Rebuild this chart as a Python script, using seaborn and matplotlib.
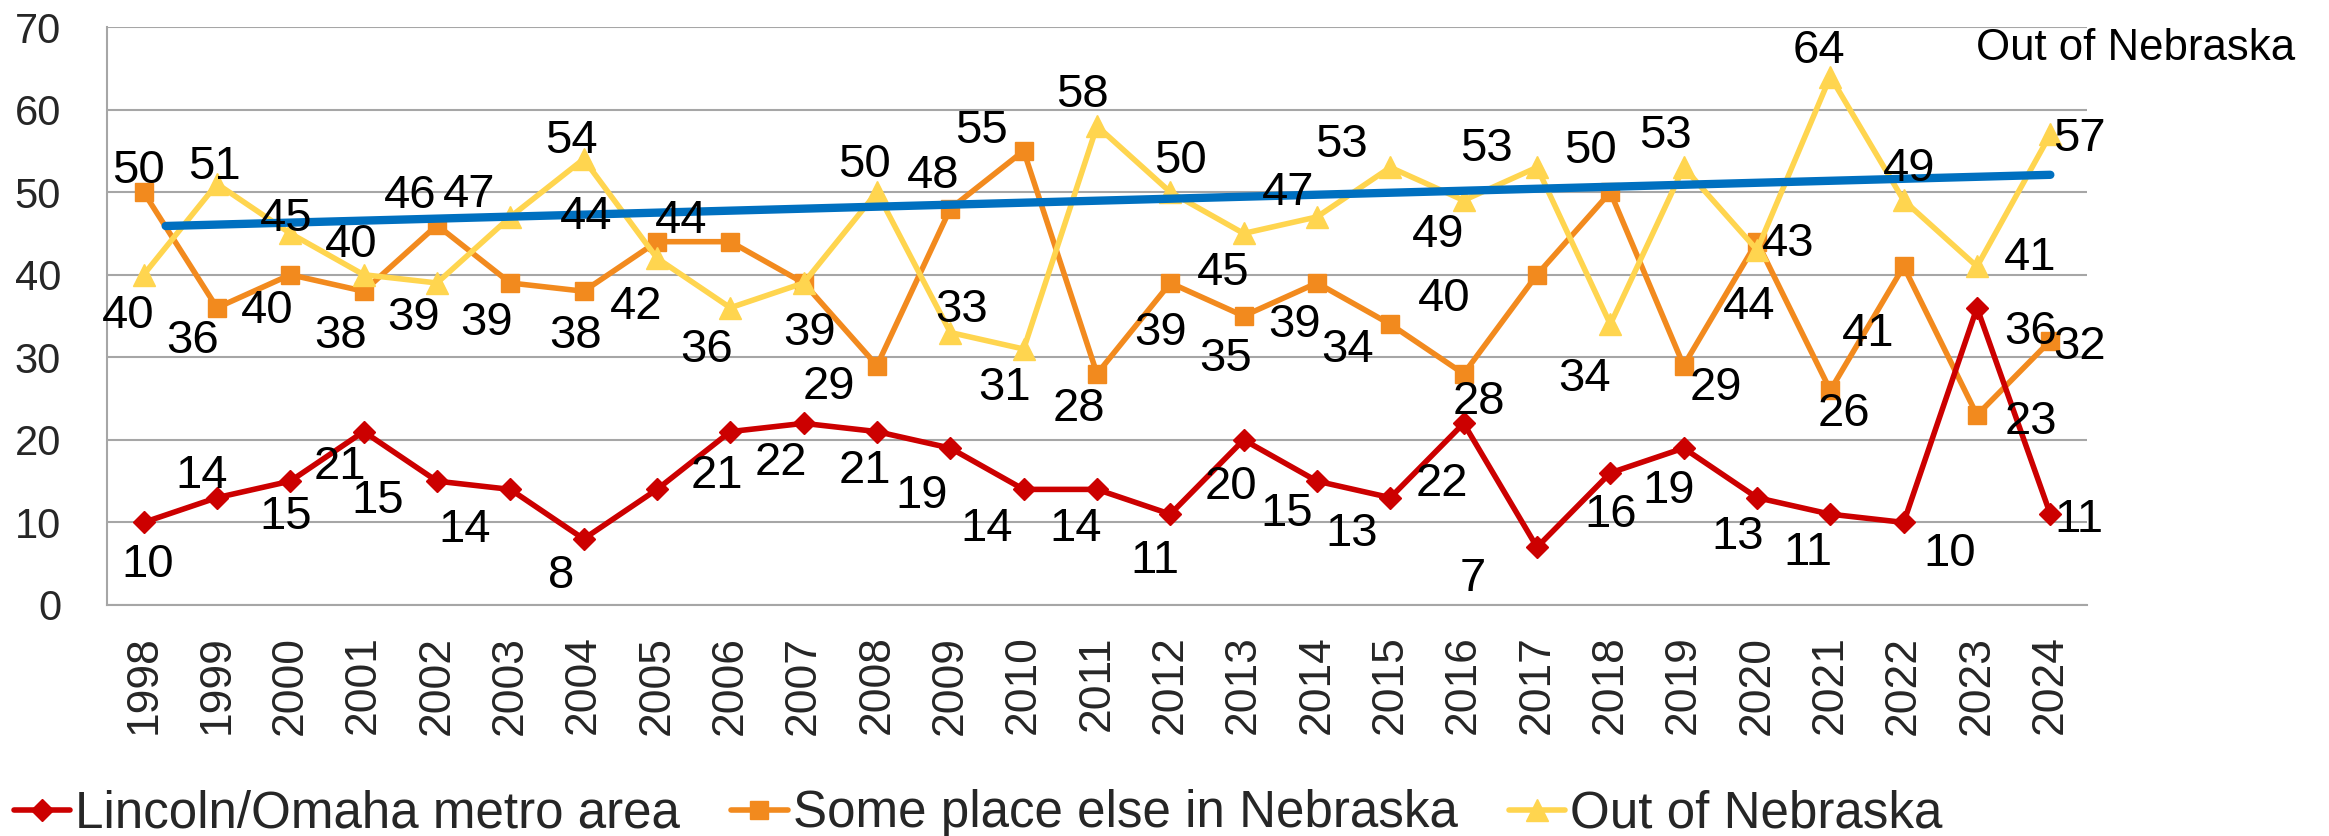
import matplotlib
matplotlib.use("Agg")
import matplotlib.pyplot as plt
import seaborn as sns
import numpy as np
from matplotlib.lines import Line2D

# ---------------- data ----------------
years = list(range(1998, 2025))
metro = [10, 13, 15, 21, 15, 14, 8, 14, 21, 22, 21, 19, 14, 14, 11, 20, 15, 13, 22, 7, 16, 19, 13, 11, 10, 36, 11]
elsewhere = [50, 36, 40, 38, 46, 39, 38, 44, 44, 39, 29, 48, 55, 28, 39, 35, 39, 34, 28, 40, 50, 29, 44, 26, 41, 23, 32]
out_ne = [40, 51, 45, 40, 39, 47, 54, 42, 36, 39, 50, 33, 31, 58, 50, 45, 47, 53, 49, 53, 34, 53, 43, 64, 49, 41, 57]

# data labels as shown on the chart
metro_labels = ["10", "14", "15", "21", "15", "14", "8", "", "21", "22", "21", "19", "14", "14", "11",
                "20", "15", "13", "22", "7", "16", "19", "13", "11", "10", "36", "11"]
elsewhere_labels = ["50", "36", "40", "38", "46", "39", "38", "44", "44", "", "29", "48", "55", "28", "39",
                    "35", "39", "34", "28", "40", "50", "29", "44", "26", "41", "23", "32"]
out_labels = [str(v) for v in out_ne]

# linear trend of "Out of Nebraska" (end points)
trend_years = [1998.3, 2024]
trend_values = [45.9, 52.1]

series_names = ["Lincoln/Omaha metro area", "Some place else in Nebraska", "Out of Nebraska"]
ytick_values = [0, 10, 20, 30, 40, 50, 60, 70]

# ---------------- label placement (dx in years, dy in value units) ----------------
metro_off = [(0.06, -4.6), (-0.21, 3.2), (-0.06, -3.8), (-0.33, -3.7), (-0.81, -1.8), (-0.63, -4.4),
             (-0.31, -3.9), (0, 0), (-0.18, -4.8), (-0.31, -4.3), (-0.17, -4.2), (-0.39, -5.2),
             (-0.51, -4.2), (-0.29, -4.2), (-0.21, -5.1), (-0.17, -5.2), (-0.42, -3.4), (-0.53, -3.8),
             (-0.30, -6.8), (-0.87, -3.3), (0.0, -4.6), (-0.2, -4.6), (-0.27, -4.2), (-0.31, -4.1),
             (0.63, -3.3), (0.73, -2.4), (0.39, -0.2)]
elsewhere_off = [(-0.07, 3.1), (-0.33, -3.5), (-0.31, -3.9), (-0.31, -4.9), (-0.36, 4.1), (-0.32, -4.3),
                 (-0.11, -4.9), (-0.96, 3.6), (-0.67, 3.1), (0, 0), (-0.66, -2.0), (-0.24, 4.5),
                 (-0.57, 3.0), (-0.25, -3.7), (-0.14, -5.5), (-0.24, -4.6), (-0.30, -4.5), (-0.59, -2.6),
                 (0.21, -2.9), (-1.27, -2.4), (-0.27, 5.5), (0.44, -2.2), (-0.11, -7.4), (0.18, -2.3),
                 (-0.48, -7.6), (0.73, -0.3), (0.4, -0.2)]
out_off = [(-0.21, -4.5), (-0.04, 2.6), (-0.05, 2.3), (-0.17, 4.1), (-0.32, -3.7), (-0.56, 3.2),
           (-0.17, 2.7), (-0.28, -5.3), (-0.32, -4.6), (0.08, -5.5), (-0.17, 3.8), (0.15, 3.3),
           (-0.26, -4.2), (-0.20, 4.3), (0.14, 4.3), (-0.28, -4.3), (-0.40, 3.4), (-0.67, 3.3),
           (-0.35, -3.6), (-0.69, 2.8), (-0.35, -6.1), (-0.25, 4.3), (0.43, 1.3), (-0.15, 3.7),
           (0.08, 4.4), (0.72, 1.6), (0.4, 0.0)]

# ---------------- style ----------------
sns.set_style("white")
plt.rcParams['font.family'] = ['Liberation Sans', 'DejaVu Sans']

RED = "#CC0000"
ORANGE = "#F28A1E"
YELLOW = "#FFD54F"
BLUE = "#0070C0"
GRID = "#A6A6A6"
LW = 4.0

W, H = 2329, 836
fig = plt.figure(figsize=(W / 100, H / 100), dpi=100)
ax = fig.add_axes([107 / W, 1 - 605 / H, 1980 / W, 578 / H])

styles = [
    (metro, RED, "D", 11.5, 4),
    (elsewhere, ORANGE, "s", 13.5, 2),
    (out_ne, YELLOW, "^", 15.5, 3),
]
for (vals, col, mk, ms, z), name in zip(styles, series_names):
    sns.lineplot(x=years, y=vals, color=col, marker=mk, markersize=ms, markeredgecolor=col,
                 markeredgewidth=1, linewidth=LW, ax=ax, zorder=z, label=name)

sns.lineplot(x=trend_years, y=trend_values, color=BLUE, linewidth=6, ax=ax, zorder=5)
if ax.get_legend() is not None:
    ax.get_legend().remove()

# data labels
LBL = 34
for vals, labels, offs in [(metro, metro_labels, metro_off),
                           (elsewhere, elsewhere_labels, elsewhere_off),
                           (out_ne, out_labels, out_off)]:
    for yr, v, t, (dx, dy) in zip(years, vals, labels, offs):
        if t:
            ax.text(yr + dx, v + dy - 0.55, t, ha="center", va="center", fontsize=LBL,
                    color="black", zorder=6, clip_on=False)

ax.text(2025.16, 67.85 - 0.5, "Out of Nebraska", ha="center", va="center", fontsize=31.5,
        color="black", zorder=6, clip_on=False)

# axes
ax.set_xlim(1997.5, 2024.5)
ax.set_ylim(0, 70)
ax.set_xticks(years)
ax.set_xticklabels([str(y) for y in years], rotation=90, fontsize=32)
ax.set_xticks(np.arange(1997.5, 2025, 1), minor=True)
ax.tick_params(axis="x", which="major", length=0, pad=22)
ax.tick_params(axis="x", which="minor", length=11, width=1.5, color=GRID, direction="out")
ax.set_yticks(ytick_values)
ax.set_yticklabels([str(v) for v in ytick_values], fontsize=30)
ax.tick_params(axis="y", length=11, width=1.5, color=GRID, pad=22, direction="out")
ax.yaxis.grid(True, color=GRID, linewidth=1.5)
ax.xaxis.grid(False)
ax.set_axisbelow(True)
for s in ["top", "right"]:
    ax.spines[s].set_visible(False)
for s in ["left", "bottom"]:
    ax.spines[s].set_color(GRID)
    ax.spines[s].set_linewidth(1.5)
ax.set_xlabel("")
ax.set_ylabel("")

handles = [Line2D([], [], color=col, marker=mk, markersize=ms, markeredgecolor=col, linewidth=LW)
           for (vals, col, mk, ms, z) in styles]
fig.legend(handles, series_names, loc="center left", bbox_to_anchor=(14 / W, 1 - 814 / H),
           ncol=3, frameon=False, fontsize=36.8, handlelength=1.1, handletextpad=0.1,
           columnspacing=1.0, borderpad=0, borderaxespad=0)

fig.savefig("out.png", dpi=100)
